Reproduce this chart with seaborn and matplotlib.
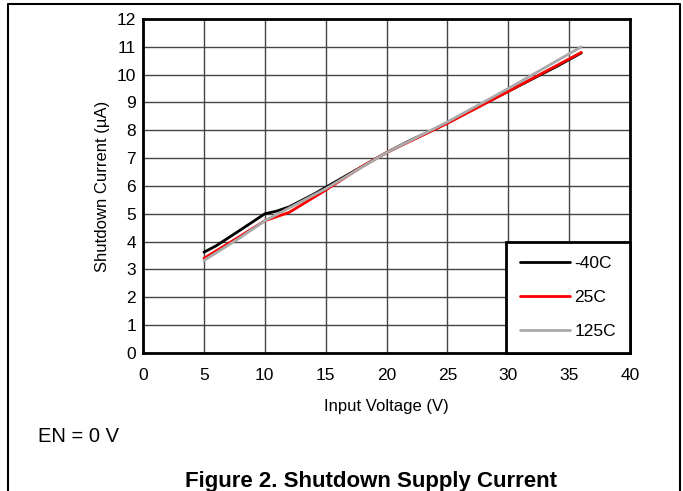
import matplotlib.pyplot as plt
import pandas as pd
import seaborn as sns
from matplotlib.lines import Line2D

# values
volts_m40 = [5, 6, 8, 10, 11, 12, 14, 16, 18, 20, 22, 24, 26, 28, 30, 32, 34, 36]
amps_m40 = [3.62, 3.85, 4.42, 5.0, 5.1, 5.25, 5.7, 6.2, 6.7, 7.2, 7.65, 8.05, 8.5, 8.95, 9.4, 9.85, 10.3, 10.78]
volts_25 = [5, 8, 10, 12, 15, 18, 20, 25, 30, 36]
amps_25 = [3.4, 4.2, 4.75, 5.05, 5.85, 6.7, 7.2, 8.25, 9.4, 10.8]
volts_125 = [5, 8, 10, 15, 20, 25, 30, 36]
amps_125 = [3.32, 4.15, 4.75, 5.9, 7.2, 8.3, 9.5, 11.0]
labels = ["-40C", "25C", "125C"]
colors = ["#000000", "#ff0000", "#aaaaaa"]

df = pd.concat([
    pd.DataFrame({"v": volts_m40, "i": amps_m40, "temp": labels[0]}),
    pd.DataFrame({"v": volts_25, "i": amps_25, "temp": labels[1]}),
    pd.DataFrame({"v": volts_125, "i": amps_125, "temp": labels[2]}),
])

sns.set_style("white")
plt.rcParams["font.family"] = ["Liberation Sans", "DejaVu Sans"]
plt.rcParams["text.color"] = "black"
plt.rcParams["axes.labelcolor"] = "black"
plt.rcParams["xtick.color"] = "black"
plt.rcParams["ytick.color"] = "black"

fig = plt.figure(figsize=(6.83, 4.91), dpi=100)
ax = fig.add_axes([0.2094, 0.2811, 0.713, 0.6802])

sns.lineplot(data=df, x="v", y="i", hue="temp", palette=dict(zip(labels, colors)),
             linewidth=2, sort=False, ax=ax)

ax.set_xlim(0, 40)
ax.set_ylim(0, 12)
ax.set_xticks(range(0, 41, 5))
ax.set_yticks(range(0, 13))
ax.grid(True, color="#444444", linewidth=1)
ax.set_axisbelow(True)
for s in ax.spines.values():
    s.set_linewidth(2)
    s.set_color("black")
ax.tick_params(length=0, labelsize=12.5)
ax.tick_params(axis="x", pad=11)
ax.tick_params(axis="y", pad=5)
ax.set_xlabel("Input Voltage (V)", fontsize=12, labelpad=11)
ax.set_ylabel("Shutdown Current (µA)", fontsize=12, labelpad=5)

leg = ax.legend(loc="lower right", borderaxespad=0, fontsize=12.5, frameon=True,
                fancybox=False, labelspacing=1.1, handlelength=2.9, handletextpad=0.25,
                borderpad=0.8)
leg.get_frame().set_edgecolor("black")
leg.get_frame().set_linewidth(2)
leg.get_frame().set_alpha(1)

fig.text(38 / 683, 1 - 437 / 491, "EN = 0 V", fontsize=14.5, va="center", ha="left")
fig.text(371 / 683, 1 - 481 / 491, "Figure 2. Shutdown Supply Current", fontsize=16,
         fontweight="bold", va="center", ha="center")

# page frame
fig.add_artist(Line2D([8 / 683, 8 / 683, 680 / 683, 680 / 683], [0, 1 - 4 / 491, 1 - 4 / 491, 0],
                      transform=fig.transFigure, color="black", linewidth=1.5))

fig.savefig("out.png", dpi=100)
